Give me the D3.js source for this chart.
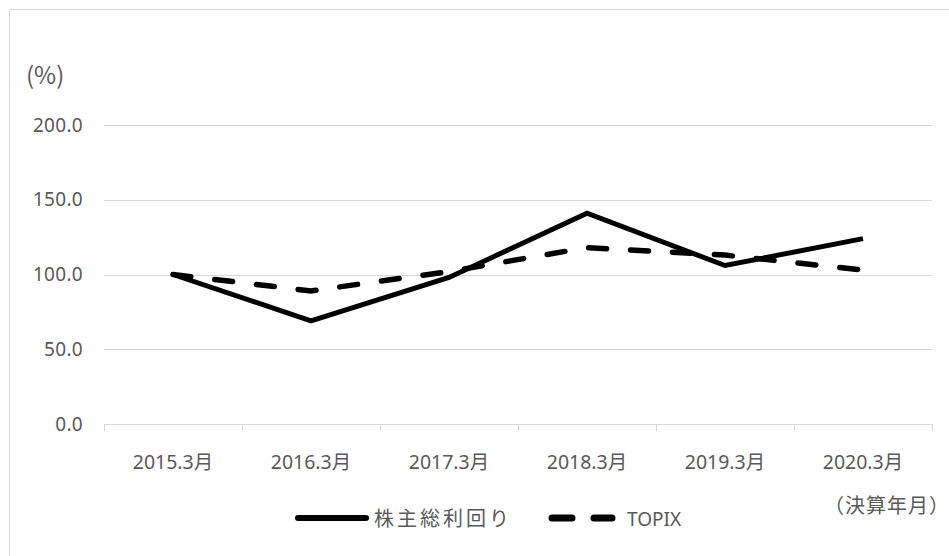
<!DOCTYPE html>
<html>
<head>
<meta charset="utf-8">
<style>
body { margin: 0; background: #fff; }
.grid line { stroke: #d9d9d9; stroke-width: 1px; }
.axis text, .lbl { font-family: "Noto Sans", "Noto Sans CJK JP", sans-serif; fill: #595959; }
.jp { font-family: "Noto Sans CJK JP", sans-serif; fill: #595959; }
</style>
</head>
<body>
<svg width="949" height="556"></svg>
<script src="https://cdn.jsdelivr.net/npm/d3@7"></script>
<script>

// values
var categories = ["2015.3月", "2016.3月", "2017.3月", "2018.3月", "2019.3月", "2020.3月"];
var tsr   = [100, 69, 98, 141, 106, 124];   // 株主総利回り
var topix = [100, 89, 102, 118, 113, 103];  // TOPIX
var yTicks = [0, 50, 100, 150, 200];
var seriesNames = ["株主総利回り", "TOPIX"];

var svg = d3.select("svg");

// chart frame (runs off the right/bottom edge in the reference)
svg.append("rect")
    .attr("x", 9.5).attr("y", 9.5)
    .attr("width", 960).attr("height", 560)
    .attr("fill", "none")
    .attr("stroke", "#d9d9d9");

var x = d3.scaleBand().domain(categories).range([104, 932]);
var y = d3.scaleLinear().domain([0, 200]).range([424, 125]);

// gridlines
svg.append("g").attr("class", "grid")
  .selectAll("line")
    .data(yTicks)
  .enter().append("line")
    .attr("x1", 104).attr("x2", 932)
    .attr("y1", function(d) { return Math.round(y(d)) + 0.5; })
    .attr("y2", function(d) { return Math.round(y(d)) + 0.5; });

// y axis labels
var yAxis = svg.append("g").attr("class", "axis")
    .attr("transform", "translate(83,0)")
    .call(d3.axisLeft(y).tickValues(yTicks).tickSize(0).tickPadding(0)
      .tickFormat(d3.format(".1f")));
yAxis.select(".domain").remove();
yAxis.selectAll("text")
    .attr("font-size", 19)
    .attr("letter-spacing", "0.3px")
    .attr("dy", "0.32em");

// x axis: band ticks between categories
var bounds = categories.map(function(c) { return x(c); }).concat([x.range()[1]]);
var xg = svg.append("g").attr("class", "grid");
xg.selectAll("line")
    .data(bounds)
  .enter().append("line")
    .attr("x1", function(d) { return Math.round(d) + 0.5; })
    .attr("x2", function(d) { return Math.round(d) + 0.5; })
    .attr("y1", 424).attr("y2", 431);

svg.append("g").attr("class", "axis")
  .selectAll("text")
    .data(categories)
  .enter().append("text")
    .attr("x", function(d) { return x(d) + x.bandwidth() / 2; })
    .attr("y", 469)
    .attr("text-anchor", "middle")
    .attr("font-size", 19.5)
    .text(function(d) { return d; });

// lines
var line = d3.line()
    .x(function(d, i) { return x(categories[i]) + x.bandwidth() / 2; })
    .y(function(d) { return y(d); });

svg.append("path")
    .datum(topix)
    .attr("d", line)
    .attr("fill", "none")
    .attr("stroke", "#000")
    .attr("stroke-width", 5.5)
    .attr("stroke-linecap", "round")
    .attr("stroke-dasharray", "18,24");

svg.append("path")
    .datum(tsr)
    .attr("d", line)
    .attr("fill", "none")
    .attr("stroke", "#000")
    .attr("stroke-width", 5)
    .attr("stroke-linejoin", "miter");

// unit labels
svg.append("text").attr("class", "jp")
    .attr("x", 26).attr("y", 84)
    .attr("font-size", 24)
    .text("(%)");

svg.append("text").attr("class", "jp")
    .attr("x", 824).attr("y", 513)
    .attr("font-size", 20)
    .attr("letter-spacing", "1px")
    .text("（決算年月）");

// legend
var legend = svg.append("g");
legend.append("line")
    .attr("x1", 298).attr("x2", 366).attr("y1", 518).attr("y2", 518)
    .attr("stroke", "#000").attr("stroke-width", 6).attr("stroke-linecap", "round");
legend.append("text").attr("class", "jp")
    .attr("x", 374).attr("y", 526)
    .attr("font-size", 20)
    .attr("letter-spacing", "3px")
    .text(seriesNames[0]);
legend.append("line")
    .attr("x1", 552).attr("x2", 612).attr("y1", 518).attr("y2", 518)
    .attr("stroke", "#000").attr("stroke-width", 7).attr("stroke-linecap", "round")
    .attr("stroke-dasharray", "20,22");
legend.append("text").attr("class", "lbl")
    .attr("x", 627).attr("y", 526)
    .attr("font-size", 19)
    .text(seriesNames[1]);

</script>
</body>
</html>
